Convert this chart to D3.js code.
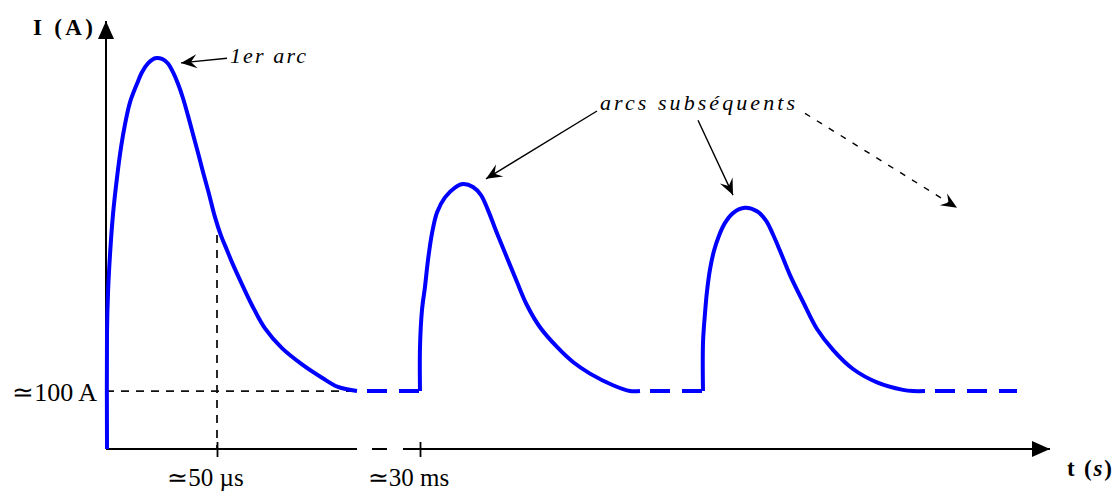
<!DOCTYPE html>
<html>
<head>
  <meta charset="utf-8">
  <script src="https://d3js.org/d3.v7.min.js"></script>
  <style>
    body { margin: 0; background: #fff; }
    text { font-family: "Liberation Serif", "Times New Roman", serif; fill: #000; }
  </style>
</head>
<body>
<script>
  /*
    Data : t in arbitrary time units, I in amperes
  */
  var pulse1 = [[1,0],[1,200],[2,269],[4,335],[7,405],[11,468],[15,520],[19,560],[24,598],
    [31,630],[36,650],[42,665],[49,674],[56,673],[62,665],[67,650],[72,630],[77,605],[82,575],
    [87,543],[92,511],[97,478],[103,440],[109,400],[115,368],[121,343],[127,318],[136,284],
    [146,248],[159,208],[176,174],[196,146],[216,123],[232,107],[251,100]];
  var pulse2 = [[314,100],[314,176],[316,240],[319,280],[322,326],[326,372],[331,408],[339,434],
    [349,451],[357,457],[367,452],[375,438],[382,412],[391,372],[401,330],[411,288],[421,248],
    [434,210],[451,176],[467,150],[484,130],[507,110],[524,100],[534,100]];
  var pulse3 = [[597,100],[597,183],[599,234],[601,272],[604,310],[608,342],[613,368],[619,390],
    [627,407],[639,416],[651,410],[660,394],[667,370],[674,342],[684,300],[697,254],[711,207],
    [727,171],[747,138],[771,115],[797,102],[807,100],[819,100]];
  var idle = [[251,314],[534,597],[819,911]];   // waiting between arcs, at ~100 A
  var baseCurrent = 100;
  var tickT = [111, 314];
  var tickLabels = ["\u224350 \u00b5s", "\u224330 ms"];
  var yTickLabel = "\u2243100 A";
  var markT = 111, markI = 369;                  // dashed drop line at ~50 us
  var arrowFrom = [[121,674],[491,583],[592,567],[699,579]];
  var arrowTo   = [[75,666],[380,466],[627,438],[851,416]];
  var arrowDashed = [false, false, false, true];

  var W = 1118, H = 495;
  var svg = d3.select("body").append("svg")
    .attr("width", W).attr("height", H);

  var x = d3.scaleLinear().domain([0, 944]).range([106, 1050]);
  var y = d3.scaleLinear().domain([0, 740]).range([449, 20]);

  var defs = svg.append("defs");
  defs.append("marker").attr("id", "axisHead")
    .attr("markerUnits", "userSpaceOnUse")
    .attr("viewBox", "0 -9 18 18").attr("refX", 18).attr("refY", 0)
    .attr("markerWidth", 18).attr("markerHeight", 18).attr("orient", "auto")
    .append("path").attr("d", "M0,-8L18,0L0,8Z").attr("fill", "#000");
  defs.append("marker").attr("id", "barb")
    .attr("markerUnits", "userSpaceOnUse")
    .attr("viewBox", "-17 -8 18 16").attr("refX", 0).attr("refY", 0)
    .attr("markerWidth", 18).attr("markerHeight", 16).attr("orient", "auto")
    .append("path").attr("d", "M0,0L-16,-7L-10,0L-16,7Z").attr("fill", "#000");

  /*
    Reference dashed lines
  */
  svg.append("line")
    .attr("x1", x(0)).attr("x2", x(idle[0][0]))
    .attr("y1", y(baseCurrent)).attr("y2", y(baseCurrent))
    .attr("stroke", "#111").attr("stroke-width", 1.8).attr("stroke-dasharray", "8 7");
  svg.append("line")
    .attr("x1", x(markT)).attr("x2", x(markT))
    .attr("y1", y(markI)).attr("y2", y(0))
    .attr("stroke", "#111").attr("stroke-width", 1.8).attr("stroke-dasharray", "8 7");

  /*
    Axes
  */
  var xAxisG = svg.append("g").attr("transform", "translate(0," + y(0) + ")")
    .call(d3.axisBottom(x).tickValues(tickT).tickSizeInner(8).tickSizeOuter(0)
      .tickFormat(function(d, i) { return tickLabels[i]; }));
  xAxisG.select(".domain").remove();
  xAxisG.selectAll(".tick line").attr("y1", -7).attr("stroke-width", 1.8);
  xAxisG.selectAll(".tick text")
    .attr("y", 37).attr("dy", null).attr("dx", -12)
    .attr("font-size", 25).attr("font-family", "Liberation Serif");

  // broken time axis
  svg.append("line")
    .attr("x1", x(0)).attr("x2", x(251)).attr("y1", y(0)).attr("y2", y(0))
    .attr("stroke", "#000").attr("stroke-width", 2);
  svg.append("line")
    .attr("x1", x(266)).attr("x2", x(281)).attr("y1", y(0)).attr("y2", y(0))
    .attr("stroke", "#000").attr("stroke-width", 2);
  svg.append("line")
    .attr("x1", x(297)).attr("x2", x(944)).attr("y1", y(0)).attr("y2", y(0))
    .attr("stroke", "#000").attr("stroke-width", 2).attr("marker-end", "url(#axisHead)");

  var yAxisG = svg.append("g").attr("transform", "translate(" + x(0) + ",0)")
    .call(d3.axisLeft(y).tickValues([baseCurrent]).tickSize(0).tickPadding(9)
      .tickFormat(function() { return yTickLabel; }));
  yAxisG.select(".domain").remove();
  yAxisG.selectAll(".tick text")
    .attr("dy", "0.38em").attr("font-size", 26).attr("font-family", "Liberation Serif");
  svg.append("line")
    .attr("x1", x(0)).attr("x2", x(0)).attr("y1", y(0)).attr("y2", y(740) + 1)
    .attr("stroke", "#000").attr("stroke-width", 2).attr("marker-end", "url(#axisHead)");

  svg.append("text").attr("x", 33).attr("y", 35)
    .attr("font-size", 23).attr("font-weight", "bold")
    .attr("textLength", 60).attr("lengthAdjust", "spacing")
    .text("I (A)");
  var tl = svg.append("text").attr("x", 1067).attr("y", 476)
    .attr("font-size", 23).attr("font-weight", "bold")
    .attr("textLength", 45).attr("lengthAdjust", "spacing");
  tl.append("tspan").text("t (");
  tl.append("tspan").attr("font-style", "italic").text("s");
  tl.append("tspan").text(")");

  /*
    Current arcs
  */
  var line = d3.line()
    .curve(d3.curveCatmullRom.alpha(0.5))
    .x(function(d) { return x(d[0]); })
    .y(function(d) { return y(d[1]); });

  svg.selectAll("path.arc")
    .data([pulse1, pulse2, pulse3])
    .enter().append("path")
    .attr("class", "arc")
    .attr("d", line)
    .attr("fill", "none").attr("stroke", "#0000ff")
    .attr("stroke-width", 4).attr("stroke-linejoin", "round");

  svg.selectAll("line.idle")
    .data(idle)
    .enter().append("line")
    .attr("class", "idle")
    .attr("x1", function(d) { return x(d[0]); })
    .attr("x2", function(d) { return x(d[1]); })
    .attr("y1", y(baseCurrent)).attr("y2", y(baseCurrent))
    .attr("stroke", "#0000ff").attr("stroke-width", 4)
    .attr("stroke-dasharray", "20 12").attr("stroke-dashoffset", 22);

  /*
    Annotations
  */
  svg.selectAll("line.note")
    .data(arrowFrom)
    .enter().append("line")
    .attr("class", "note")
    .attr("x1", function(d) { return x(d[0]); })
    .attr("y1", function(d) { return y(d[1]); })
    .attr("x2", function(d, i) { return x(arrowTo[i][0]); })
    .attr("y2", function(d, i) { return y(arrowTo[i][1]); })
    .attr("stroke", "#000").attr("stroke-width", 1.4)
    .attr("stroke-dasharray", function(d, i) { return arrowDashed[i] ? "6 8" : null; })
    .attr("marker-end", "url(#barb)");

  svg.append("text")
    .attr("x", x(124)).attr("y", 63)
    .attr("font-size", 22).attr("font-style", "italic")
    .attr("textLength", 76).attr("lengthAdjust", "spacing")
    .text("1er arc");
  svg.append("text")
    .attr("x", x(494)).attr("y", 110)
    .attr("font-size", 22).attr("font-style", "italic")
    .attr("textLength", 195).attr("lengthAdjust", "spacing")
    .text("arcs subséquents");
</script>
</body>
</html>
